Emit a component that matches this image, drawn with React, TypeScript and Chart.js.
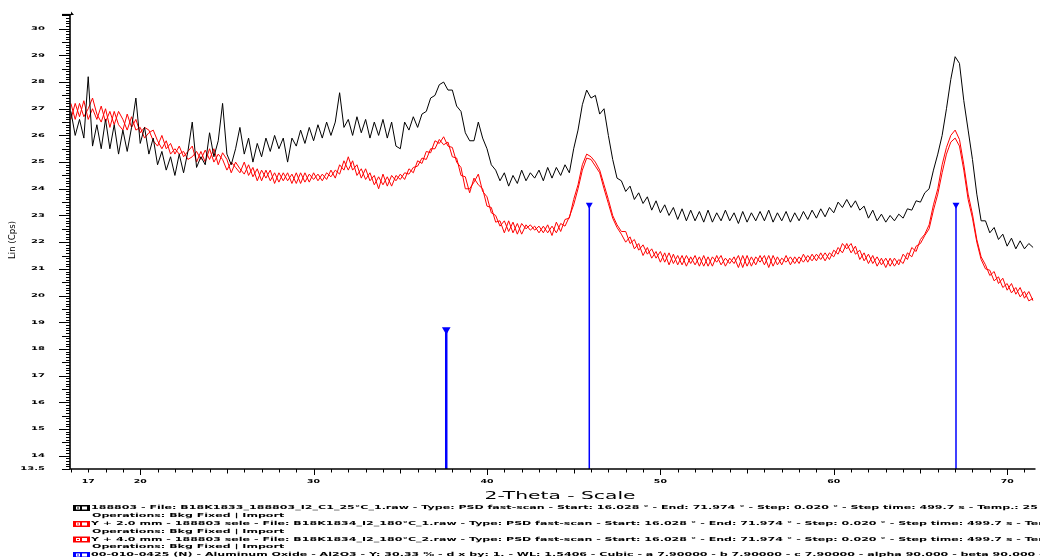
import { useEffect, useRef } from 'react';
import { Chart, registerables } from 'chart.js';

Chart.register(...registerables);

// 2-Theta sampling of the arrays below (degrees)
const THETA_START = 16;
const THETA_STEP = 0.25;

// Lin (Cps) — sample 188803 (black)
const black188803 = [
  26.9, 26.0, 26.6, 25.9,
  28.2, 25.6, 26.4, 25.5,
  26.6, 25.5, 26.4, 25.3,
  26.2, 25.4, 26.3, 27.4,
  25.7, 26.3, 25.3, 25.9,
  24.9, 25.4, 24.7, 25.2,
  24.5, 25.3, 24.6, 25.4,
  26.5, 24.8, 25.2, 24.9,
  26.1, 25.2, 25.8, 27.2,
  25.3, 24.9, 25.5, 26.3,
  25.3, 25.9, 25.0, 25.7,
  25.2, 25.9, 25.4, 26.0,
  25.5, 25.9, 25.0, 25.9,
  25.6, 26.2, 25.7, 26.3,
  25.8, 26.4, 25.9, 26.5,
  26.0, 26.5, 27.6, 26.3,
  26.6, 26.0, 26.7, 26.1,
  26.6, 25.9, 26.5, 26.0,
  26.6, 25.9, 26.5, 25.6,
  25.5, 26.5, 26.2, 26.7,
  26.3, 26.8, 26.9, 27.4,
  27.5, 27.9, 28.0, 27.7,
  27.7, 27.1, 26.9, 26.1,
  25.8, 25.8, 26.5, 25.9,
  25.5, 24.9, 24.7, 24.3,
  24.6, 24.1, 24.5, 24.2,
  24.7, 24.3, 24.6, 24.4,
  24.7, 24.3, 24.8, 24.4,
  24.8, 24.5, 24.9, 24.6,
  25.5, 26.2, 27.15, 27.7,
  27.4, 27.5, 26.8, 27.0,
  26.0, 25.1, 24.4, 24.3,
  23.9, 24.1, 23.6, 23.85,
  23.45, 23.7, 23.2, 23.55,
  23.1, 23.4, 23.0, 23.3,
  22.85, 23.25, 22.8, 23.2,
  22.8, 23.15, 22.75, 23.2,
  22.75, 23.1, 22.8, 23.2,
  22.8, 23.1, 22.7, 23.15,
  22.75, 23.1, 22.8, 23.15,
  22.8, 23.2, 22.75, 23.1,
  22.8, 23.15, 22.75, 23.1,
  22.8, 23.15, 22.85, 23.2,
  22.9, 23.25, 22.95, 23.3,
  23.1, 23.5, 23.3, 23.6,
  23.3, 23.55, 23.2, 23.35,
  22.9, 23.2, 22.8, 23.05,
  22.75, 23.0, 22.8, 23.05,
  22.9, 23.25, 23.2, 23.55,
  23.5, 23.85, 24.0, 24.7,
  25.3, 26.0, 27.0, 28.1,
  28.95, 28.7, 27.3, 26.2,
  25.1, 23.8, 22.8, 22.8,
  22.35, 22.55, 22.1, 22.3,
  21.85, 22.15, 21.75, 22.05,
  21.75, 21.95, 21.8,
];

// Lin (Cps) — Y + 2.0 mm (red)
const redY2mm = [
  27.2, 26.6, 27.2, 26.7,
  27.0, 27.4, 26.8, 26.5,
  27.0, 26.3, 26.9, 26.4,
  26.2, 26.8, 26.3, 26.6,
  26.1, 26.3, 26.2, 25.8,
  25.6, 26.0, 25.5, 25.7,
  25.3, 25.6, 25.2, 25.4,
  25.6, 25.0, 25.4, 25.0,
  25.5, 25.0, 25.3, 25.1,
  24.7, 25.0, 24.8, 24.6,
  25.0, 24.5, 24.8, 24.3,
  24.7, 24.4, 24.7, 24.2,
  24.6, 24.3, 24.6, 24.2,
  24.6, 24.2, 24.6, 24.25,
  24.6, 24.3, 24.55, 24.35,
  24.7, 24.4, 24.9, 24.7,
  25.2, 24.7, 24.9, 24.4,
  24.75, 24.3, 24.5, 24.0,
  24.55, 24.1, 24.5, 24.3,
  24.55, 24.35, 24.75, 24.6,
  25.05, 24.95, 25.4, 25.35,
  25.8, 25.7, 25.95, 25.6,
  25.55, 25.0, 24.8, 24.0,
  24.0, 24.25, 24.55, 23.9,
  23.7, 23.1, 23.0, 22.6,
  22.8, 22.4, 22.75, 22.3,
  22.7, 22.5, 22.65, 22.45,
  22.6, 22.35, 22.65, 22.25,
  22.75, 22.4, 22.85, 22.9,
  23.6, 24.15, 24.9, 25.3,
  25.2, 25.0, 24.7, 24.15,
  23.6, 23.0, 22.65, 22.4,
  22.4, 21.95, 22.1, 21.7,
  21.9, 21.55, 21.75, 21.4,
  21.65, 21.25, 21.6, 21.2,
  21.5, 21.15, 21.5, 21.2,
  21.5, 21.1, 21.5, 21.1,
  21.45, 21.25, 21.5, 21.1,
  21.4, 21.2, 21.5, 21.05,
  21.5, 21.1, 21.45, 21.25,
  21.5, 21.05, 21.5, 21.15,
  21.4, 21.25, 21.45, 21.2,
  21.45, 21.25, 21.5, 21.3,
  21.55, 21.35, 21.6, 21.35,
  21.7, 21.55, 21.95, 21.75,
  21.95, 21.55, 21.7, 21.3,
  21.55, 21.2, 21.45, 21.15,
  21.4, 21.1, 21.4, 21.15,
  21.55, 21.35, 21.8, 21.65,
  22.1, 22.3, 22.65, 23.4,
  24.0, 24.9, 25.55, 26.0,
  26.2, 25.85, 24.9, 23.8,
  23.05, 22.1, 21.45, 21.15,
  20.75, 20.9, 20.45, 20.65,
  20.2, 20.45, 20.05, 20.3,
  19.9, 20.15, 19.8,
];

// Lin (Cps) — Y + 4.0 mm (red)
const redY4mm = [
  26.6, 27.2, 26.7, 27.3,
  26.6, 27.0, 26.6, 27.1,
  26.5, 26.9, 26.4, 26.9,
  26.6, 26.2, 26.7, 26.2,
  26.3, 25.9, 26.1, 26.2,
  25.8, 25.5, 25.8, 25.3,
  25.5, 25.3, 25.4, 25.1,
  25.2, 25.4, 25.1, 25.45,
  25.1, 25.5, 24.9, 25.35,
  25.1, 24.6, 25.0, 24.75,
  24.55, 24.9, 24.45, 24.75,
  24.3, 24.7, 24.3, 24.6,
  24.25, 24.6, 24.3, 24.55,
  24.2, 24.6, 24.25, 24.55,
  24.35, 24.55, 24.3, 24.6,
  24.45, 24.7, 24.55, 25.05,
  24.7, 25.05, 24.5, 24.75,
  24.35, 24.6, 24.15, 24.45,
  24.15, 24.45, 24.1, 24.5,
  24.35, 24.6, 24.55, 24.8,
  24.85, 25.15, 25.1, 25.5,
  25.5, 25.85, 25.65, 25.75,
  25.2, 25.15, 24.5, 24.45,
  23.85, 24.4, 24.15, 24.0,
  23.35, 23.3, 22.75, 22.8,
  22.35, 22.8, 22.35, 22.7,
  22.3, 22.65, 22.45, 22.6,
  22.35, 22.6, 22.35, 22.6,
  22.35, 22.7, 22.6, 22.95,
  23.4, 24.0, 24.7, 25.15,
  25.1, 24.85, 24.6, 24.0,
  23.45, 22.9, 22.55, 22.3,
  22.0, 22.2, 21.75, 21.95,
  21.5, 21.8, 21.4, 21.65,
  21.25, 21.6, 21.15, 21.55,
  21.15, 21.5, 21.1, 21.45,
  21.15, 21.45, 21.1, 21.45,
  21.1, 21.5, 21.15, 21.4,
  21.2, 21.45, 21.05, 21.5,
  21.1, 21.45, 21.15, 21.5,
  21.15, 21.5, 21.1, 21.45,
  21.15, 21.5, 21.15, 21.45,
  21.2, 21.55, 21.25, 21.55,
  21.3, 21.6, 21.3, 21.6,
  21.45, 21.8, 21.6, 21.95,
  21.6, 21.85, 21.35, 21.6,
  21.2, 21.5, 21.1, 21.4,
  21.05, 21.4, 21.1, 21.35,
  21.2, 21.6, 21.45, 21.85,
  21.95, 22.25, 22.5, 23.2,
  23.8, 24.6, 25.3, 25.75,
  25.9, 25.6, 24.7, 23.6,
  22.9, 22.0, 21.35, 21.0,
  20.95, 20.55, 20.7, 20.3,
  20.45, 20.1, 20.3, 19.95,
  20.15, 19.8, 19.9,
];

// Reference pattern 00-010-0425 Aluminum Oxide (blue sticks)
const stickTheta = [37.65, 45.9, 67.05];
const stickIntensity = [18.72, 23.4, 23.4];

const xTickLabels = [17, 20, 30, 40, 50, 60, 70];
const yTickLabels = [13.5, 14, 15, 16, 17, 18, 19, 20, 21, 22, 23, 24, 25, 26, 27, 28, 29, 30];

const X_MIN = 15.95;
const X_MAX = 71.52;
const Y_MIN = 13.5;
const Y_MAX = 30.55;

const xTitle = '2-Theta - Scale';
const yTitle = 'Lin (Cps)';

const legendEntries = [
  { color: '#000000', text: '188803 - File: B18K1833_188803_I2_C1_25°C_1.raw - Type: PSD fast-scan - Start: 16.028 ° - End: 71.974 ° - Step: 0.020 ° - Step time: 499.7 s - Temp.: 25 °C (Room) - Time Started: 15 s', ops: 'Operations: Bkg Fixed | Import' },
  { color: '#ff0000', text: 'Y + 2.0 mm - 188803 sele - File: B18K1834_I2_180°C_1.raw - Type: PSD fast-scan - Start: 16.028 ° - End: 71.974 ° - Step: 0.020 ° - Step time: 499.7 s - Temp.: 25 °C (Room)', ops: 'Operations: Bkg Fixed | Import' },
  { color: '#ff0000', text: 'Y + 4.0 mm - 188803 sele - File: B18K1834_I2_180°C_2.raw - Type: PSD fast-scan - Start: 16.028 ° - End: 71.974 ° - Step: 0.020 ° - Step time: 499.7 s - Temp.: 25 °C (Room)', ops: 'Operations: Bkg Fixed | Import' },
  { color: '#0000ff', text: '00-010-0425 (N) - Aluminum Oxide - Al2O3 - Y: 30.33 % - d x by: 1. - WL: 1.5406 - Cubic - a 7.90000 - b 7.90000 - c 7.90000 - alpha 90.000 - beta 90.000 - gamma 90.000', ops: '' },
];

function toPoints(vals: number[]) {
  return vals.map((y, i) => ({ x: THETA_START + i * THETA_STEP, y }));
}

function drawStretched(
  ctx: CanvasRenderingContext2D,
  text: string,
  x: number,
  y: number,
  font: string,
  sx: number,
  align: 'left' | 'center' | 'right'
) {
  ctx.save();
  ctx.font = font;
  ctx.textBaseline = 'middle';
  ctx.textAlign = 'left';
  const w = ctx.measureText(text).width * sx;
  const left = align === 'right' ? x - w : align === 'center' ? x - w / 2 : x;
  ctx.translate(left, y);
  ctx.scale(sx, 1);
  ctx.fillText(text, 0, 0);
  ctx.restore();
}

function textWidth(ctx: CanvasRenderingContext2D, text: string, font: string) {
  ctx.save();
  ctx.font = font;
  const w = ctx.measureText(text).width;
  ctx.restore();
  return w;
}

const xrdPlugin = {
  id: 'xrdFrame',
  afterDraw(chart: any) {
    const { ctx, chartArea: ca } = chart;
    const xs = chart.scales.x;
    const ys = chart.scales.y;
    ctx.save();
    ctx.strokeStyle = '#000';
    ctx.fillStyle = '#000';

    // axis lines
    ctx.lineWidth = 1.6;
    ctx.beginPath();
    ctx.moveTo(ca.left, ca.top);
    ctx.lineTo(ca.left, ca.bottom);
    ctx.lineTo(ca.right + 2, ca.bottom);
    ctx.stroke();
    // small arrow at top of y axis
    ctx.lineWidth = 1.2;
    ctx.beginPath();
    ctx.moveTo(ca.left - 8, ca.top + 0.5);
    ctx.lineTo(ca.left + 2, ca.top + 0.5);
    ctx.stroke();
    ctx.beginPath();
    ctx.moveTo(ca.left + 1, ca.top - 2.5);
    ctx.lineTo(ca.left + 4, ca.top + 1);
    ctx.lineTo(ca.left + 1, ca.top + 1);
    ctx.closePath();
    ctx.fill();

    // y ticks every 0.1
    ctx.lineWidth = 1;
    for (let k = Math.round(Y_MIN * 10); k <= Math.floor(Y_MAX * 10); k++) {
      const py = Math.round(ys.getPixelForValue(k / 10)) + 0.5;
      const len = k % 10 === 0 ? 11 : k % 5 === 0 ? 8 : 4;
      ctx.beginPath();
      ctx.moveTo(ca.left - len, py);
      ctx.lineTo(ca.left, py);
      ctx.stroke();
    }
    // x ticks every 1 degree
    for (let t = Math.ceil(X_MIN); t <= Math.floor(X_MAX); t++) {
      const px = Math.round(xs.getPixelForValue(t)) + 0.5;
      const len = t % 10 === 0 ? 6 : t % 5 === 0 ? 4.5 : 3.5;
      ctx.beginPath();
      ctx.moveTo(px, ca.bottom);
      ctx.lineTo(px, ca.bottom + len);
      ctx.stroke();
    }

    // tick labels
    yTickLabels.forEach((v) => {
      const py = ys.getPixelForValue(v);
      drawStretched(ctx, String(v), 45, py, 'bold 5px "DejaVu Sans"', 2.0, 'right');
    });
    xTickLabels.forEach((v) => {
      const px = xs.getPixelForValue(v);
      drawStretched(ctx, String(v), px, 482, 'bold 5.5px "DejaVu Sans"', 1.7, 'center');
    });

    // axis titles
    const xtFont = '11px "DejaVu Sans"';
    drawStretched(ctx, xTitle, 560, 496, xtFont, 151 / textWidth(ctx, xTitle, xtFont), 'center');

    const ytFont = '8.5px "DejaVu Sans"';
    ctx.save();
    ctx.translate(13, 240);
    ctx.rotate(-Math.PI / 2);
    drawStretched(ctx, yTitle, 0, 0, ytFont, 38 / textWidth(ctx, yTitle, ytFont), 'center');
    ctx.restore();

    // legend
    const lfont = 'bold 5.5px "DejaVu Sans"';
    const ref = legendEntries[0].text.slice(0, legendEntries[0].text.indexOf('Temp.: 25') + 9);
    const sx = 947 / textWidth(ctx, ref, lfont);
    const rowsY = [508, 516, 524, 532, 539.5, 547, 555];
    let r = 0;
    legendEntries.forEach((e) => {
      const yy = rowsY[r];
      ctx.fillStyle = e.color;
      ctx.fillRect(73, yy - 3, 17, 6);
      ctx.fillStyle = '#fff';
      ctx.fillRect(76, yy - 1.5, 4, 3);
      ctx.fillRect(82, yy - 1.5, 5, 3);
      ctx.fillStyle = e.color;
      ctx.fillRect(77, yy - 0.5, 2, 1);
      ctx.fillStyle = '#000';
      drawStretched(ctx, e.text, 91, yy, lfont, sx, 'left');
      r++;
      if (e.ops) {
        drawStretched(ctx, e.ops, 92, rowsY[r], lfont, sx, 'left');
        r++;
      }
    });
    ctx.restore();
  },
};

export default function App() {
  const canvasRef = useRef<HTMLCanvasElement | null>(null);

  useEffect(() => {
    if (!canvasRef.current) return;
    const stickSets = stickTheta.map((t, i) => ({
      type: 'line' as const,
      data: [
        { x: t, y: Y_MIN },
        { x: t, y: stickIntensity[i] },
      ],
      borderColor: '#0000ff',
      backgroundColor: '#0000ff',
      borderWidth: i === 0 ? 2.5 : 1.5,
      pointRadius: [0, 2.5],
      pointStyle: 'triangle',
      rotation: 180,
      order: 0,
    }));
    const chart = new Chart(canvasRef.current, {
      type: 'line',
      data: {
        datasets: [
          {
            label: '188803',
            data: toPoints(black188803),
            borderColor: '#000000',
            borderWidth: 1,
            pointRadius: 0,
            order: 1,
          },
          {
            label: 'Y + 2.0 mm',
            data: toPoints(redY2mm),
            borderColor: '#ff0000',
            borderWidth: 1,
            pointRadius: 0,
            order: 2,
          },
          {
            label: 'Y + 4.0 mm',
            data: toPoints(redY4mm),
            borderColor: '#ff0000',
            borderWidth: 1,
            pointRadius: 0,
            order: 3,
          },
          ...stickSets,
        ] as any,
      },
      options: {
        animation: false,
        responsive: false,
        devicePixelRatio: 1,
        layout: { padding: { top: 14, left: 0, right: 0, bottom: 0 } },
        plugins: {
          legend: { display: false },
          tooltip: { enabled: false },
          title: { display: false },
        },
        elements: { line: { tension: 0 } },
        scales: {
          x: {
            type: 'linear',
            min: X_MIN,
            max: X_MAX,
            offset: false,
            grid: { display: false, drawTicks: false },
            border: { display: false },
            ticks: { display: false },
            afterFit: (s: any) => {
              s.height = 88;
            },
          },
          y: {
            type: 'linear',
            min: Y_MIN,
            max: Y_MAX,
            grid: { display: false, drawTicks: false },
            border: { display: false },
            ticks: { display: false },
            afterFit: (s: any) => {
              s.width = 70;
            },
          },
        },
      } as any,
      plugins: [xrdPlugin],
    });
    return () => chart.destroy();
  }, []);

  return (
    <div style={{ position: 'fixed', left: 0, top: 0, width: 1040, height: 557, background: '#fff' }}>
      <canvas ref={canvasRef} width={1040} height={557} style={{ display: 'block', width: 1040, height: 557 }} />
    </div>
  );
}
